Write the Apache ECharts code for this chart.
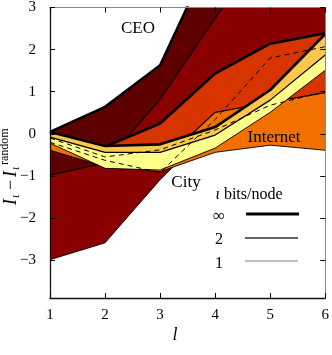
<!DOCTYPE html>
<html><head><meta charset="utf-8">
<script src="https://cdn.jsdelivr.net/npm/echarts@6/dist/echarts.min.js"></script>
<style>html,body{margin:0;padding:0;background:#fff}#c{width:332px;height:355px}</style>
</head><body><div id="c"></div>
<script>
// x positions (l)
const ls = [1, 2, 3, 4, 5, 6];
// CEO network: iota = 1, 2, infinity
const ceo1   = [-2.99, -2.59, -1.09, 0.20, 0.30, 0.30];
const ceo2   = [-0.98, -0.69, 0.82, 2.75, 4.50, 5.00];
const ceoInf = [0.045, 0.64, 1.63, 4.43, 5.50, 6.00];
// Internet network
const net1   = [-0.39, -0.78, -0.90, -0.44, -0.27, -0.39];
const net2   = [-0.10, -0.50, -0.70, 0.51, 0.75, 0.98];
const netInf = [0.045, -0.31, 0.245, 1.43, 2.14, 2.39];
// City network
const city1   = [-0.22, -0.82, -0.86, -0.34, 0.51, 1.51];
const city2   = [-0.08, -0.44, -0.44, -0.03, 0.80, 1.87];
const cityInf = [0.045, -0.29, -0.25, 0.16, 1.04, 2.37];
// dashed curves
const dashA = [-0.10, -0.55, -0.38, 0.09, 0.68, 1.00];
const dashB = [-0.20, -0.63, -0.92, 0.34, 1.80, 2.07];
// ticks
const xTicks = [1, 2, 3, 4, 5, 6];
const yTicks = [-3, -2, -1, 0, 1, 2, 3];

const SERIF = '"Liberation Serif", "DejaVu Serif", serif';

function band(lower, upper, color, z) {
  return {
    type: 'custom', z: z, clip: true, silent: true, animation: false,
    data: [[ls[0], lower[0]]],
    renderItem: function (params, api) {
      const pts = [];
      for (let i = 0; i < ls.length; i++) pts.push(api.coord([ls[i], upper[i]]));
      for (let i = ls.length - 1; i >= 0; i--) pts.push(api.coord([ls[i], lower[i]]));
      return { type: 'polygon', shape: { points: pts }, style: { fill: color, stroke: null } };
    }
  };
}
function line(vals, w, z, dash) {
  return {
    type: 'line', z: z, silent: true, animation: false, symbol: 'none', clip: true,
    data: ls.map((x, i) => [x, vals[i]]),
    lineStyle: { color: '#000', width: w, type: dash ? [5, 4] : 'solid' }
  };
}

const TH = 2.6, MID = 1.2, TN = 0.9;
const series = [
  band(ceo1, ceo2, '#880000', 2),
  line(ceo1, TN, 3),
  band(ceo2, ceoInf, '#5e0000', 4),
  line(ceo2, MID, 5), line(ceoInf, TH, 5),
  band(net1, net2, '#f27000', 6),
  band(net2, netInf, '#d83400', 6),
  line(net1, TN, 7), line(net2, MID, 7), line(netInf, TH, 7),
  band(city1, city2, '#ffff8c', 8),
  band(city2, cityInf, '#fdc84a', 8),
  line(city1, TN, 9), line(city2, MID, 9), line(cityInf, TH, 9),
  line(dashA, 1, 10, true), line(dashB, 1, 10, true)
];

function xAx(pos, show, col, w) {
  return {
    type: 'value', min: 1, max: 6, interval: 1, position: pos, z: 50,
    axisLine: { show: true, onZero: false, lineStyle: { color: col, width: w } },
    axisTick: { show: true, inside: true, length: 5, lineStyle: { color: '#000', width: 1 } },
    axisLabel: { show: show, fontFamily: SERIF, fontSize: 15, color: '#000', margin: 10 },
    splitLine: { show: false }
  };
}
function yAx(pos, show, col, w) {
  return {
    type: 'value', min: -3.9, max: 3, position: pos, z: 50,
    axisLine: { show: true, onZero: false, lineStyle: { color: col, width: w } },
    axisTick: { show: true, inside: true, length: 5, customValues: yTicks, lineStyle: { color: '#000', width: 1 } },
    axisLabel: { show: show, customValues: yTicks, fontFamily: SERIF, fontSize: 15, color: '#000', margin: 14,
      padding: [7, 0, 0, 0],
      formatter: v => (v < 0 ? '\u2212' + (-v) : '' + v) },
    splitLine: { show: false }
  };
}

const tfont = (sz, it) => (it ? 'italic ' : '') + sz + 'px ' + SERIF;
const graphic = [
  { type: 'text', x: 138, y: 29, style: { text: 'CEO', font: tfont(17), fill: '#000', align: 'center', verticalAlign: 'middle' }, z: 60 },
  { type: 'text', x: 274, y: 138, style: { text: 'Internet', font: tfont(17), fill: '#000', align: 'center', verticalAlign: 'middle' }, z: 60 },
  { type: 'text', x: 186, y: 183, style: { text: 'City', font: tfont(17), fill: '#000', align: 'center', verticalAlign: 'middle' }, z: 60 },
  { type: 'text', x: 175, y: 335, style: { text: 'l', font: tfont(18, true), fill: '#000', align: 'center', verticalAlign: 'middle' }, z: 60 },
  // legend
  { type: 'text', x: 249, y: 195, z: 60, style: { text: '{i|\u03b9} bits/node', font: tfont(16), fill: '#000', align: 'center', verticalAlign: 'middle',
      rich: { i: { fontStyle: 'italic', fontFamily: SERIF, fontSize: 16 } } } },
  { type: 'text', x: 219, y: 217, z: 60, style: { text: '\u221e', font: tfont(17), fill: '#000', align: 'center', verticalAlign: 'middle' } },
  { type: 'text', x: 219, y: 240, z: 60, style: { text: '2', font: tfont(16), fill: '#000', align: 'center', verticalAlign: 'middle' } },
  { type: 'text', x: 219, y: 264, z: 60, style: { text: '1', font: tfont(16), fill: '#000', align: 'center', verticalAlign: 'middle' } },
  { type: 'line', z: 60, shape: { x1: 246, y1: 214, x2: 299, y2: 214 }, style: { stroke: '#000', lineWidth: 3 } },
  { type: 'line', z: 60, shape: { x1: 245, y1: 238, x2: 298, y2: 238 }, style: { stroke: '#333', lineWidth: 1.6 } },
  { type: 'line', z: 60, shape: { x1: 245, y1: 261, x2: 298, y2: 261 }, style: { stroke: '#808080', lineWidth: 1 } },
  // y-axis title, rotated
  { type: 'group', x: 11, y: 205, rotation: Math.PI / 2, z: 60, children: [
    { type: 'text', x: 0, y: 0, style: { text: 'I', font: tfont(18, true), fill: '#000', verticalAlign: 'middle' } },
    { type: 'text', x: 7, y: 5, style: { text: '\u03b9', font: tfont(12, true), fill: '#000', verticalAlign: 'middle' } },
    { type: 'text', x: 15, y: 0, style: { text: '\u2212', font: tfont(18), fill: '#000', verticalAlign: 'middle' } },
    { type: 'text', x: 28, y: 0, style: { text: 'I', font: tfont(18, true), fill: '#000', verticalAlign: 'middle' } },
    { type: 'text', x: 35, y: 5, style: { text: '\u03b9', font: tfont(12, true), fill: '#000', verticalAlign: 'middle' } },
    { type: 'text', x: 40, y: -6, style: { text: 'random', font: tfont(12), fill: '#000', verticalAlign: 'middle' } }
  ] }
];

const chart = echarts.init(document.getElementById('c'), null, { renderer: 'canvas' });
chart.setOption({
  animation: false,
  backgroundColor: '#fff',
  grid: { left: 50, right: 5, top: 7, bottom: 57, containLabel: false },
  xAxis: [xAx('bottom', true, '#111', 1.3), xAx('top', false, '#888', 1)],
  yAxis: [yAx('left', true, '#111', 1.3), yAx('right', false, '#888', 1)],
  series: series,
  graphic: graphic
});
</script>
</body></html>
